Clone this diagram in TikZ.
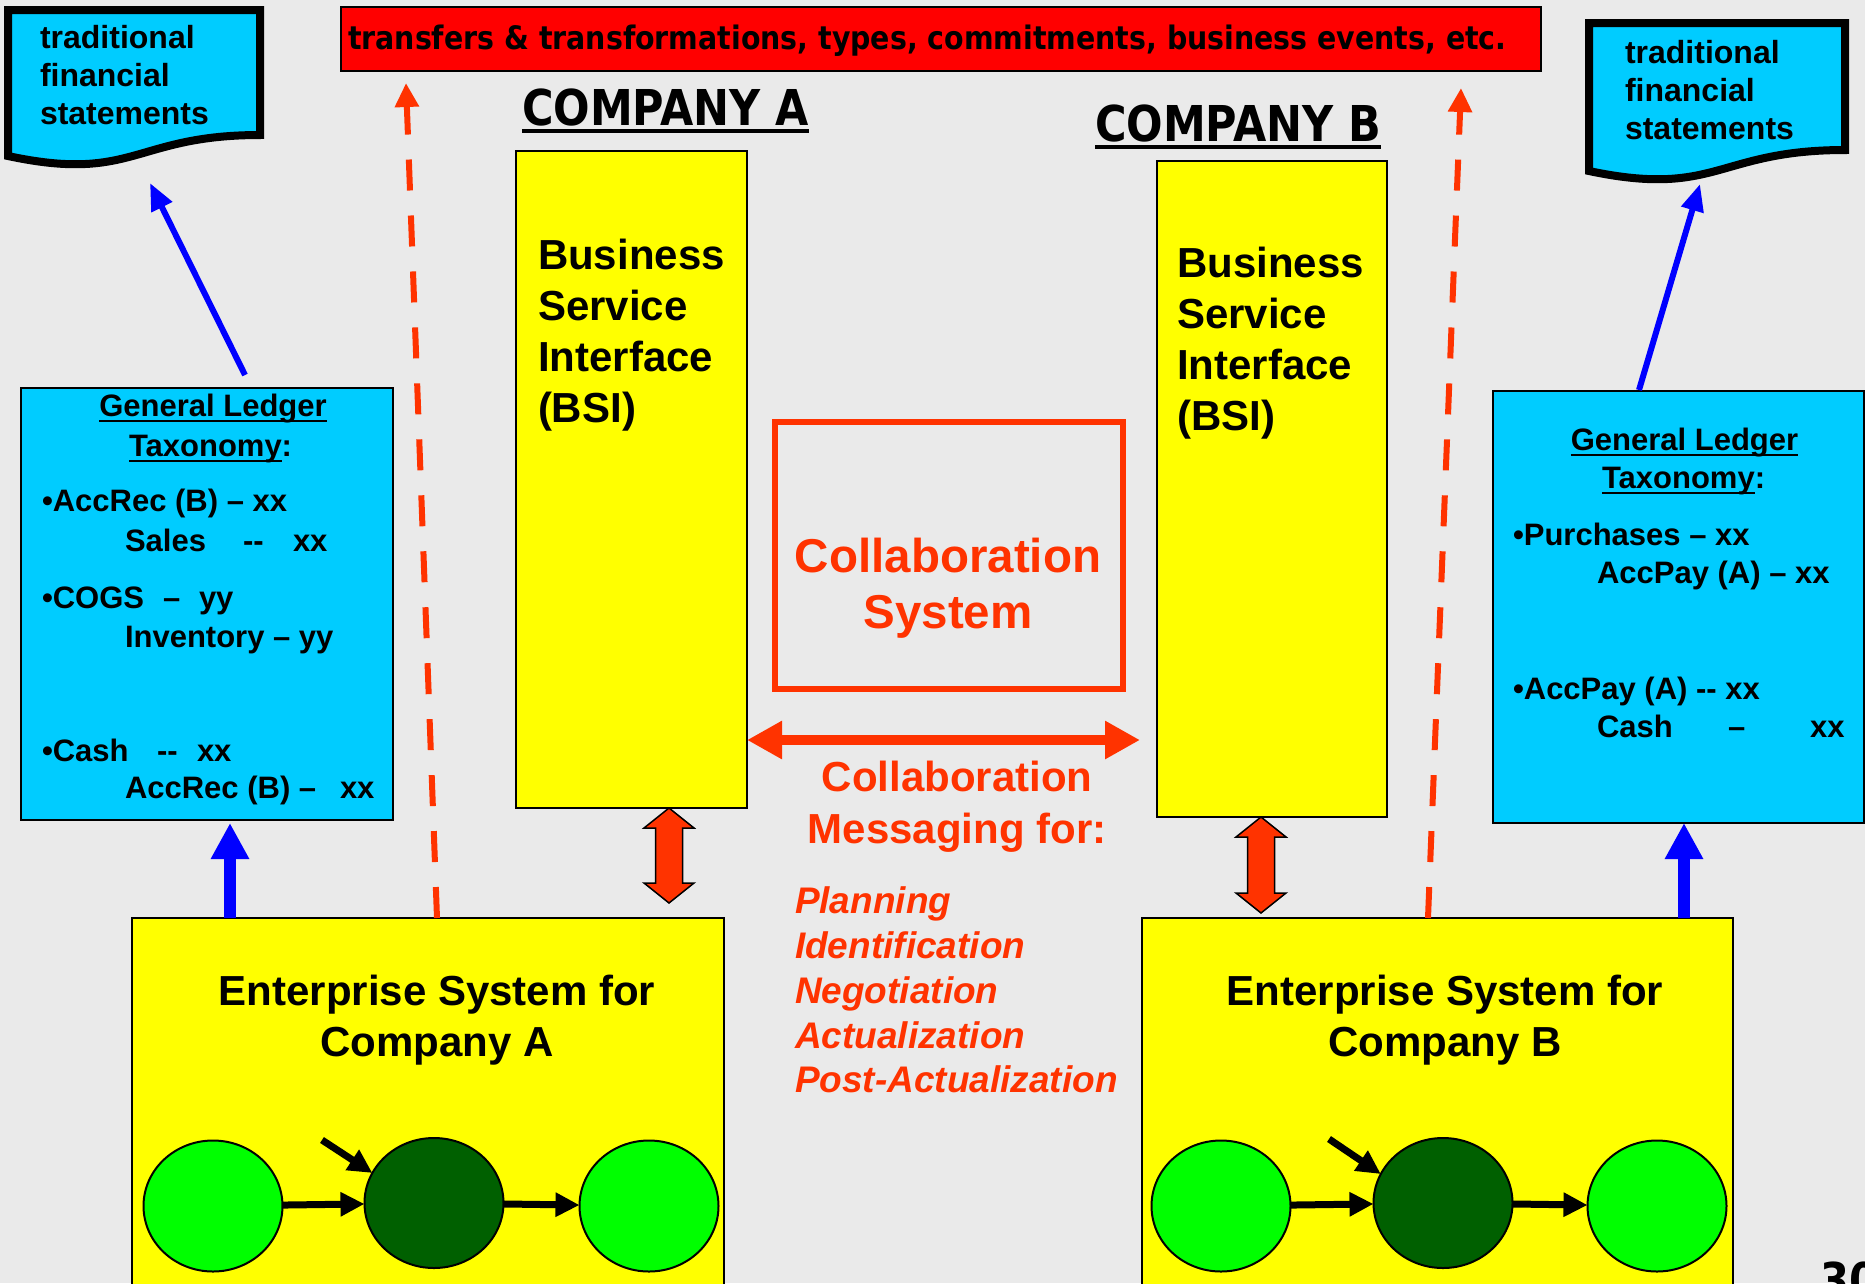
\documentclass[tikz,border=0pt]{standalone}
\usepackage{fontspec}
\setmainfont{Liberation Sans}
\newfontfamily\tah{DejaVu Sans}[FakeStretch=0.87]
\newfontfamily\tahb{DejaVu Sans}[FakeStretch=0.88]
\usetikzlibrary{arrows.meta,calc,shapes.geometric}
\newcommand\fsz[1]{\fontsize{#1}{#1}\selectfont}
\newcommand\dd{-\kern0pt-}
\definecolor{bgc}{HTML}{EAEAEA}
\definecolor{cyanc}{HTML}{00CCFF}
\definecolor{yelc}{HTML}{FFFF00}
\definecolor{redc}{HTML}{FF0000}
\definecolor{orc}{HTML}{FF3300}
\definecolor{lgreen}{HTML}{00FF00}
\definecolor{dgreen}{HTML}{006000}
\definecolor{bluec}{HTML}{0000FF}
\tikzset{
  ybox/.style={draw=black,line width=2pt,fill=yelc,anchor=north west},
  cbox/.style={draw=black,line width=2pt,fill=cyanc,anchor=north west},
  docshape/.style={draw=black,line width=8pt,fill=cyanc,line join=miter},
  txt/.style={font=\bfseries\fsz{32},anchor=base west},
  bsitxt/.style={font=\bfseries\fsz{42},anchor=base west},
  estxt/.style={font=\bfseries\fsz{42},anchor=base},
  gltxt/.style={font=\bfseries\fsz{31},anchor=base west},
  glhead/.style={font=\bfseries\fsz{31}},
  listtxt/.style={font=\bfseries\itshape\fsz{37},text=orc,anchor=base west},
  msgtxt/.style={font=\bfseries\fsz{42},text=orc,anchor=base},
  coltxt/.style={font=\bfseries\fsz{47.5},text=orc,anchor=base},
  comptxt/.style={font=\tah\bfseries\fsz{49.4},anchor=base west},
  lstate/.style={ellipse,draw=black,line width=2pt,fill=lgreen,minimum width=139pt,minimum height=131pt},
  dstate/.style={ellipse,draw=black,line width=2pt,fill=dgreen,minimum width=139pt,minimum height=130pt},
  blk/.style={draw=black,line width=7pt,-{Triangle[length=24pt,width=23pt]}},
  bluev/.style={draw=bluec,line width=12pt,-{Triangle[length=36pt,width=36pt]}},
  blued/.style={draw=bluec,line width=6pt,-{Triangle[length=27pt,width=22pt]}},
  reddash/.style={draw=orc,line width=6pt,dash pattern=on 31pt off 25pt,-{Triangle[length=24pt,width=23pt]}},
  redh/.style={draw=orc,line width=10pt,{Triangle[length=35pt,width=36pt]}-{Triangle[length=35pt,width=36pt]}},
  blockarrow/.style={draw=black,line width=1.5pt,fill=orc,line join=miter},
  uline/.style={draw=black,line width=2.5pt},
}
\begin{document}
\begin{tikzpicture}[x=1pt,y=-1pt,every node/.style={inner sep=0pt,outer sep=0pt}]
\clip (0,0) rectangle (1865,1283);
\useasboundingbox (0,0) rectangle (1865,1283);
\fill[bgc] (0,0) rectangle (1865,1283);

% ---- documents (traditional financial statements)
\draw[docshape] (8,10) -- (260,10) -- (260,135) .. controls (134,135) and (134,183) .. (8,156) -- cycle;
\coordinate (docA) at (150,183);
\node[txt] (dA1) at (40,48) {traditional};
\node[txt] (dA2) at (40,86) {financial};
\node[txt] (dA3) at (40,124) {statements};

\draw[docshape] (1589,23) -- (1845,23) -- (1845,150) .. controls (1717,150) and (1717,198) .. (1589,171) -- cycle;
\coordinate (docB) at (1700,184);
\node[txt] (dB1) at (1625,63) {traditional};
\node[txt] (dB2) at (1625,101) {financial};
\node[txt] (dB3) at (1625,139) {statements};

% ---- banner
\node[draw=black,line width=2pt,fill=redc,anchor=north west,minimum width=1200pt,minimum height=64pt] (banner) at (341,7) {};
\node[font=\tahb\bfseries\fsz{32.3},anchor=base west] (bantxt) at (348,49) {transfers \& transformations, types, commitments, business events, etc.};

% ---- company titles
\node[comptxt] (compA) at (522,125) {COMPANY A};
\draw[line width=4pt] ([yshift=-6pt]compA.base west) -- ([yshift=-6pt]compA.base east);
\node[comptxt] (compB) at (1095,141) {COMPANY B};
\draw[line width=4pt] ([yshift=-6pt]compB.base west) -- ([yshift=-6pt]compB.base east);

% ---- BSI boxes
\node[ybox,minimum width=231pt,minimum height=657pt] (bsiA) at (516,151) {};
\node[bsitxt] (bA1) at (538,269) {Business};
\node[bsitxt] (bA2) at (538,320) {Service};
\node[bsitxt] (bA3) at (538,371) {Interface};
\node[bsitxt] (bA4) at (538,422) {(BSI)};

\node[ybox,minimum width=230pt,minimum height=656pt] (bsiB) at (1157,161) {};
\node[bsitxt] (bB1) at (1177,277) {Business};
\node[bsitxt] (bB2) at (1177,328) {Service};
\node[bsitxt] (bB3) at (1177,379) {Interface};
\node[bsitxt] (bB4) at (1177,430) {(BSI)};

% ---- collaboration system
\node[draw=orc,line width=6pt,anchor=north west,minimum width=348pt,minimum height=267pt] (colsys) at (775,422) {};
\node[coltxt] (cs1) at (948,572) {Collaboration};
\node[coltxt] (cs2) at (948,628) {System};

\draw[redh] ([yshift=68pt]bsiA.south east) -- ([xshift=-17pt,yshift=77pt]bsiB.south west);

\node[msgtxt] (msg1) at (957,791) {Collaboration};
\node[msgtxt] (msg2) at (957,843) {Messaging for:};
\node[listtxt] (l1) at (795,913) {Planning};
\node[listtxt] (l2) at (795,958) {Identification};
\node[listtxt] (l3) at (795,1003) {Negotiation};
\node[listtxt] (l4) at (795,1048) {Actualization};
\node[listtxt] (l5) at (795,1092) {Post-Actualization};

% ---- GL boxes
\node[cbox,minimum width=372pt,minimum height=432pt] (glA) at (21,388) {};
\node[glhead,anchor=base] (glAh) at (213,416) {General Ledger};
\draw[uline] ([yshift=-5pt]glAh.base west) -- ([yshift=-5pt]glAh.base east);
\node[glhead,anchor=base west] (glAt) at (129,456) {Taxonomy};
\node[glhead,anchor=base west] (glAc) at (glAt.base east) {:};
\draw[uline] ([yshift=-5pt]glAt.base west) -- ([yshift=-5pt]glAt.base east);
\node[gltxt] (a1) at (42,511) {•AccRec (B) – xx};
\node[gltxt] (a2) at (125,551) {Sales};
\node[gltxt] (a2b) at (243,551) {\dd};
\node[gltxt] (a2c) at (293,551) {xx};
\node[gltxt] (a3) at (42,608) {•COGS};
\node[gltxt] (a3b) at (163,608) {–};
\node[gltxt] (a3c) at (199,608) {yy};
\node[gltxt] (a4) at (125,647) {Inventory – yy};
\node[gltxt] (a5) at (42,761) {•Cash};
\node[gltxt] (a5b) at (157,761) {\dd};
\node[gltxt] (a5c) at (197,761) {xx};
\node[gltxt] (a6) at (125,798) {AccRec (B) –};
\node[gltxt] (a6c) at (340,798) {xx};

\node[cbox,minimum width=371pt,minimum height=432pt] (glB) at (1493,391) {};
\node[glhead,anchor=base] (glBh) at (1684.5,450) {General Ledger};
\draw[uline] ([yshift=-5pt]glBh.base west) -- ([yshift=-5pt]glBh.base east);
\node[glhead,anchor=base west] (glBt) at (1602,488) {Taxonomy};
\node[glhead,anchor=base west] (glBc) at (glBt.base east) {:};
\draw[uline] ([yshift=-5pt]glBt.base west) -- ([yshift=-5pt]glBt.base east);
\node[gltxt] (b1) at (1513,545) {•Purchases – xx};
\node[gltxt] (b2) at (1597,583) {AccPay (A) – xx};
\node[gltxt] (b3) at (1513,699) {•AccPay (A) \dd{} xx};
\node[gltxt] (b4) at (1597,737) {Cash};
\node[gltxt] (b4b) at (1728,737) {–};
\node[gltxt] (b4c) at (1810,737) {xx};

% ---- enterprise systems
\node[ybox,minimum width=592pt,minimum height=400pt] (esA) at (132,918) {};
\node[estxt] (eA1) at (437,1005) {Enterprise System for};
\node[estxt] (eA2) at (437,1056) {Company A};
\node[lstate] (sA1) at (213,1206) {};
\node[dstate] (sA2) at (434,1203) {};
\node[lstate] (sA3) at (649,1206) {};
\coordinate (inA) at (322,1140);
\draw[blk] (sA1) -- (sA2);
\draw[blk] (sA2) -- (sA3);
\draw[blk] (inA) -- (sA2.154);

\node[ybox,minimum width=591pt,minimum height=400pt] (esB) at (1142,918) {};
\node[estxt] (eB1) at (1445,1005) {Enterprise System for};
\node[estxt] (eB2) at (1445,1056) {Company B};
\node[lstate] (sB1) at (1221,1206) {};
\node[dstate] (sB2) at (1443,1203) {};
\node[lstate] (sB3) at (1657,1206) {};
\coordinate (inB) at (1329,1139);
\draw[blk] (sB1) -- (sB2);
\draw[blk] (sB2) -- (sB3);
\draw[blk] (inB) -- (sB2.155);

% ---- vertical block arrows
\coordinate (dAt) at ([xshift=153pt]bsiA.south west);
\coordinate (dAb) at (669,903);
\coordinate (dBt) at ([xshift=104pt]bsiB.south west);
\coordinate (dBb) at (1261,913);
\foreach \t/\b in {dAt/dAb,dBt/dBb}{
\draw[blockarrow] let \p1=(\t), \p2=(\b) in
 (\x1,\y1) -- (\x1+25pt,\y1-20pt) -- (\x1+13.5pt,\y1-20pt) -- (\x1+13.5pt,\y2+20pt) -- (\x1+25pt,\y2+20pt) -- (\x1,\y2)
 -- (\x1-25pt,\y2+20pt) -- (\x1-13.5pt,\y2+20pt) -- (\x1-13.5pt,\y1-20pt) -- (\x1-25pt,\y1-20pt) -- cycle;
}

% ---- blue arrows
\draw[bluev] ([xshift=98pt]esA.north west) -- ([xshift=209pt,yshift=-3pt]glA.south west);
\draw[bluev] ([xshift=542pt]esB.north west) -- ([xshift=191pt,yshift=0pt]glB.south west);
\draw[blued] ([xshift=224pt,yshift=13pt]glA.north west) -- (docA);
\draw[blued] ([xshift=146pt,yshift=1pt]glB.north west) -- (docB);

% ---- red dashed arrows
\draw[reddash] ([xshift=305pt]esA.north west) -- ([xshift=65pt,yshift=-12pt]banner.south west);
\draw[reddash] ([xshift=286pt]esB.north west) -- ([xshift=1120pt,yshift=-17pt]banner.south west);

% ---- page number
\node[font=\tah\bfseries\fsz{48},anchor=north west] (pnum) at (1820,1262) {30};
\end{tikzpicture}
\end{document}
